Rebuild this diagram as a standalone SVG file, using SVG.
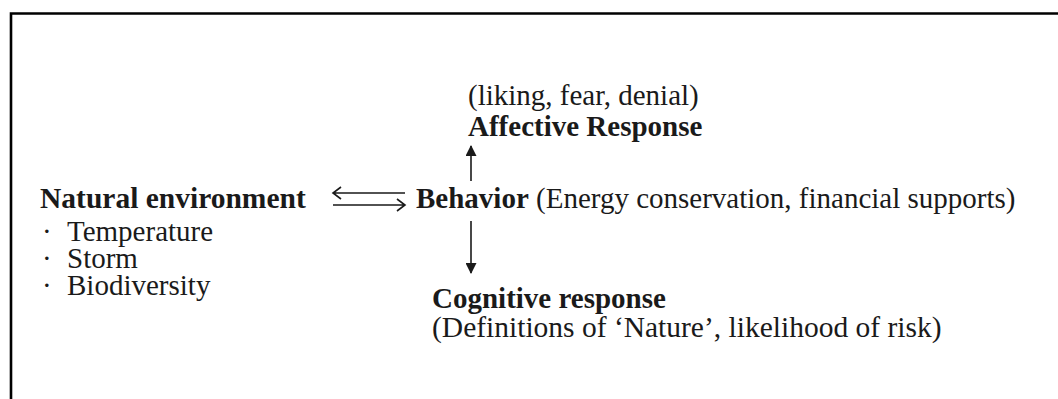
<svg xmlns="http://www.w3.org/2000/svg" width="1058" height="399" viewBox="0 0 1058 399">
<style>
text{font-family:"Liberation Serif","Times New Roman",serif;font-size:29px;fill:#1a1a1a}
.b{font-weight:bold}
.ln{stroke:#1a1a1a;stroke-width:1.6;fill:none}
</style>
<defs>
<marker id="ah" viewBox="0 0 10 10" refX="9" refY="5" markerWidth="12" markerHeight="11" markerUnits="userSpaceOnUse" orient="auto">
<path d="M0,0 L10,5 L0,10 Z" fill="#1a1a1a"/>
</marker>
</defs>
<rect width="1058" height="399" fill="#fff"/>
<path d="M11,399 V13.5 H1058" stroke="#000" stroke-width="2.6" fill="none"/>
<g id="natural">
<text x="40" y="208" class="b" style="font-size:29.5px">Natural environment</text>
<text><tspan x="42" y="241">·</tspan><tspan x="67" y="241">Temperature</tspan></text>
<text><tspan x="42" y="268">·</tspan><tspan x="67" y="268">Storm</tspan></text>
<text><tspan x="42" y="295">·</tspan><tspan x="67" y="295">Biodiversity</tspan></text>
</g>
<g id="behavior">
<text x="416" y="208"><tspan class="b">Behavior</tspan> (Energy conservation, financial supports)</text>
</g>
<g id="affective">
<text x="468" y="105">(liking, fear, denial)</text>
<text x="468" y="136" class="b">Affective Response</text>
</g>
<g id="cognitive">
<text x="432" y="308" class="b">Cognitive response</text>
<text x="432" y="337" style="font-size:29.5px">(Definitions of ‘Nature’, likelihood of risk)</text>
</g>
<g id="connectors">
<path class="ln" d="M405,193 H333 M341,187 L333,193 L341,199"/>
<path class="ln" d="M333,205 H405 M397,199 L405,205 L397,211"/>
<line class="ln" x1="471" y1="181" x2="471" y2="146" marker-end="url(#ah)"/>
<line class="ln" x1="471" y1="221" x2="471" y2="273" marker-end="url(#ah)"/>
</g>
</svg>
